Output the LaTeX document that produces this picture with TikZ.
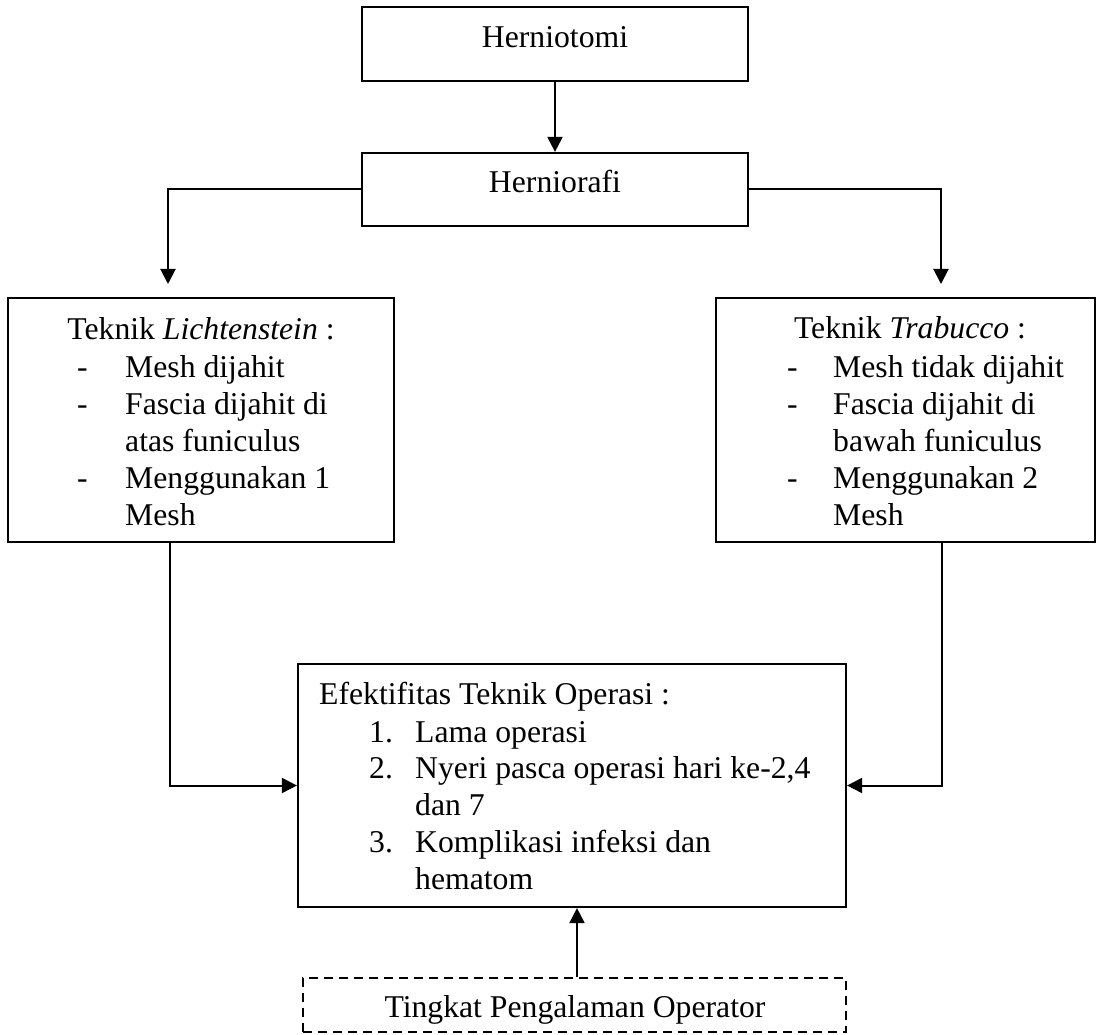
\documentclass[tikz,border=0pt]{standalone}
\usepackage{fontspec}
\setmainfont{Liberation Serif}
\usetikzlibrary{arrows.meta}
\begin{document}
\begin{tikzpicture}[x=1pt,y=-1pt,
  box/.style={draw, line width=2.2pt, inner sep=0pt},
  dbox/.style={draw, line width=2pt, inner sep=0pt, dash pattern=on 9pt off 6pt},
  txt/.style={inner sep=0pt, font=\fontsize{31.7}{37.2}\selectfont},
  arr/.style={line width=2pt, -{Triangle[width=15pt,length=15pt]}},
  ln/.style={line width=2pt}]
\useasboundingbox (0,0) rectangle (1098,1035);

% boxes
\node[box, minimum width=386pt, minimum height=74pt] (hto) at (555,44) {};
\node[box, minimum width=386pt, minimum height=73pt] (hra) at (555,189.5) {};
\node[box, minimum width=386pt, minimum height=244pt] (lbox) at (201,420) {};
\node[box, minimum width=379pt, minimum height=244pt] (rbox) at (905.5,420) {};
\node[box, minimum width=548pt, minimum height=243pt] (efek) at (572,785.5) {};
\node[dbox, minimum width=543pt, minimum height=54pt] (peng) at (574.5,1005) {};

% texts
\node[txt, anchor=base] (thto) at (555,48) {Herniotomi};
\node[txt, anchor=base] (thra) at (555,193) {Herniorafi};

\node[txt, anchor=base] (tl) at (201,339) {Teknik \textit{Lichtenstein} :};
\node[txt, anchor=base west] (tll) at (77,377) {\begin{tabular}[t]{@{}p{48pt}@{}l@{}}
- & Mesh dijahit\\
- & Fascia dijahit di\\
 & atas funiculus\\
- & Menggunakan 1\\
 & Mesh
\end{tabular}};

\node[txt, anchor=base] (tr) at (910,338) {Teknik \textit{Trabucco} :};
\node[txt, anchor=base west] (trl) at (787,377) {\begin{tabular}[t]{@{}p{46pt}@{}l@{}}
- & Mesh tidak dijahit\\
- & Fascia dijahit di\\
 & bawah funiculus\\
- & Menggunakan 2\\
 & Mesh
\end{tabular}};

\node[txt, anchor=base west] (te) at (319,704) {Efektifitas Teknik Operasi :};
\node[txt, anchor=base west, font=\fontsize{31.7}{36.8}\selectfont] (tel) at (369,742) {\begin{tabular}[t]{@{}p{46pt}@{}l@{}}
1. & Lama operasi\\
2. & Nyeri pasca operasi hari ke-2,4\\
 & dan 7\\
3. & Komplikasi infeksi dan\\
 & hematom
\end{tabular}};

\node[txt, anchor=base] (tp) at (575,1017) {Tingkat Pengalaman Operator};

% connector ends
\coordinate (tipL) at (168,284);
\coordinate (tipR) at (941,284);
\coordinate (eL) at (170,784);
\coordinate (eR) at (942,784);
\coordinate (eB) at (577,0);

% connectors
\draw[arr] (hto.south) -- (hra.north);
\draw[arr] (hra.west) -| (tipL);
\draw[arr] (hra.east) -| (tipR);
\draw[arr] (eL |- lbox.south) |- (efek.west);
\draw[arr] (eR |- rbox.south) |- (efek.east);
\draw[arr] (eB |- peng.north) -- (eB |- efek.south);
\end{tikzpicture}
\end{document}
